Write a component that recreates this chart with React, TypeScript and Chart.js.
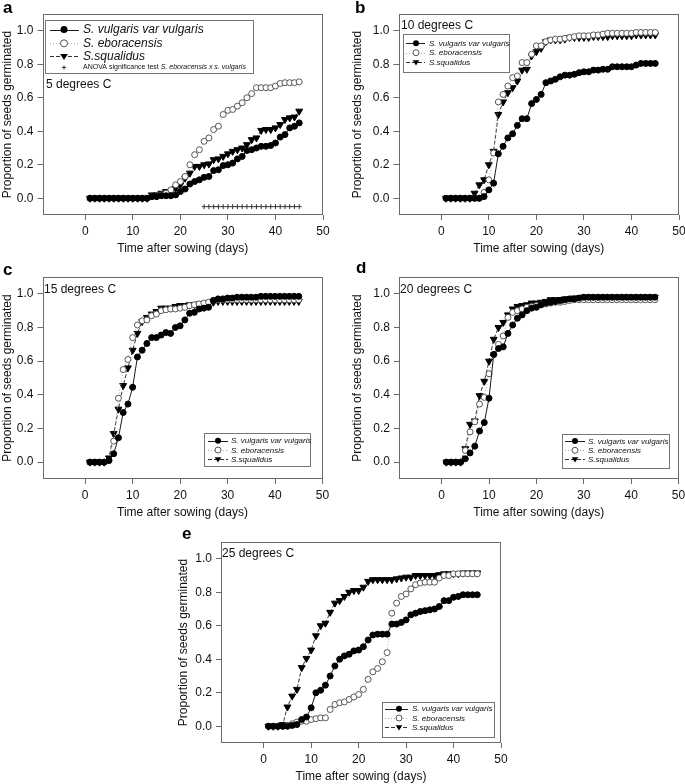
import React, { useEffect, useRef } from "react";
import { Chart, registerables } from "chart.js";

Chart.register(...registerables);

const FONT = '"Liberation Sans", Arial, Helvetica, sans-serif';
const FRAME = "#6a6a6a";
const TEXT = "#111";

// ---------- data ----------
const DAYS = [1, 2, 3, 4, 5, 6, 7, 8, 9, 10, 11, 12, 13, 14, 15, 16, 17, 18, 19, 20, 21, 22, 23, 24, 25, 26, 27, 28, 29, 30, 31, 32, 33, 34, 35, 36, 37, 38, 39, 40, 41, 42, 43, 44, 45];
const X_TICKS = [0, 10, 20, 30, 40, 50];
const Y_TICKS = [0, 0.2, 0.4, 0.6, 0.8, 1.0];
const SERIES_NAMES = ["S. vulgaris var vulgaris", "S. eboracensis", "S.squalidus"];
const TEMPS = ["5 degrees C", "10 degrees C", "15 degrees C", "20 degrees C", "25 degrees C"];
const LETTERS = ["a", "b", "c", "d", "e"];

// 5 degrees C
const A_VUL = [0, 0, 0, 0, 0, 0, 0, 0, 0, 0, 0, 0, 0, 0.01, 0.01, 0.015, 0.015, 0.015, 0.02, 0.04, 0.055, 0.085, 0.1, 0.11, 0.125, 0.13, 0.165, 0.17, 0.195, 0.2, 0.21, 0.235, 0.25, 0.285, 0.29, 0.3, 0.31, 0.31, 0.315, 0.33, 0.365, 0.38, 0.42, 0.43, 0.45];
const A_EBO = [0, 0, 0, 0, 0, 0, 0, 0, 0, 0, 0, 0, 0, 0.01, 0.01, 0.02, 0.03, 0.05, 0.08, 0.1, 0.13, 0.2, 0.26, 0.29, 0.34, 0.36, 0.41, 0.43, 0.5, 0.525, 0.53, 0.55, 0.57, 0.6, 0.625, 0.66, 0.66, 0.66, 0.66, 0.67, 0.685, 0.69, 0.69, 0.69, 0.695];
const A_SQU = [0, 0, 0, 0, 0, 0, 0, 0, 0, 0, 0, 0, 0, 0.02, 0.02, 0.03, 0.04, 0.04, 0.06, 0.08, 0.12, 0.15, 0.19, 0.19, 0.2, 0.205, 0.23, 0.235, 0.25, 0.265, 0.28, 0.29, 0.3, 0.32, 0.35, 0.36, 0.405, 0.41, 0.41, 0.42, 0.44, 0.47, 0.48, 0.485, 0.52];
const A_ANOVA_DAYS = [25, 26, 27, 28, 29, 30, 31, 32, 33, 34, 35, 36, 37, 38, 39, 40, 41, 42, 43, 44, 45];
const A_ANOVA_Y = [-0.05, -0.05, -0.05, -0.05, -0.05, -0.05, -0.05, -0.05, -0.05, -0.05, -0.05, -0.05, -0.05, -0.05, -0.05, -0.05, -0.05, -0.05, -0.05, -0.05, -0.05];

// 10 degrees C
const B_VUL = [0, 0, 0, 0, 0, 0, 0, 0, 0.01, 0.05, 0.09, 0.265, 0.31, 0.36, 0.385, 0.435, 0.475, 0.475, 0.565, 0.59, 0.62, 0.69, 0.7, 0.71, 0.725, 0.735, 0.735, 0.74, 0.75, 0.755, 0.755, 0.765, 0.765, 0.77, 0.77, 0.785, 0.785, 0.785, 0.785, 0.785, 0.795, 0.805, 0.805, 0.805, 0.805];
const B_EBO = [0, 0, 0, 0, 0, 0, 0, 0, 0.035, 0.11, 0.27, 0.575, 0.62, 0.67, 0.72, 0.73, 0.81, 0.81, 0.86, 0.91, 0.91, 0.935, 0.945, 0.95, 0.95, 0.955, 0.96, 0.965, 0.97, 0.97, 0.97, 0.975, 0.975, 0.98, 0.985, 0.985, 0.985, 0.985, 0.985, 0.985, 0.99, 0.99, 0.99, 0.99, 0.99];
const B_SQU = [0, 0, 0, 0, 0, 0, 0.03, 0.08, 0.11, 0.2, 0.28, 0.5, 0.575, 0.63, 0.66, 0.7, 0.765, 0.77, 0.85, 0.875, 0.895, 0.935, 0.945, 0.945, 0.945, 0.95, 0.96, 0.96, 0.96, 0.96, 0.96, 0.965, 0.965, 0.965, 0.965, 0.97, 0.97, 0.97, 0.97, 0.97, 0.975, 0.975, 0.975, 0.975, 0.975];

// 15 degrees C
const C_VUL = [0, 0, 0, 0, 0.01, 0.05, 0.145, 0.295, 0.345, 0.445, 0.625, 0.665, 0.705, 0.74, 0.74, 0.755, 0.77, 0.765, 0.8, 0.81, 0.845, 0.885, 0.89, 0.91, 0.915, 0.92, 0.96, 0.97, 0.97, 0.975, 0.975, 0.98, 0.98, 0.98, 0.98, 0.98, 0.985, 0.985, 0.985, 0.985, 0.985, 0.985, 0.985, 0.985, 0.985];
const C_EBO = [0, 0, 0, 0, 0.01, 0.125, 0.38, 0.55, 0.61, 0.74, 0.815, 0.84, 0.845, 0.87, 0.88, 0.9, 0.905, 0.91, 0.91, 0.915, 0.92, 0.93, 0.935, 0.94, 0.945, 0.95, 0.96, 0.965, 0.965, 0.965, 0.965, 0.965, 0.965, 0.965, 0.965, 0.965, 0.965, 0.965, 0.965, 0.965, 0.965, 0.965, 0.965, 0.965, 0.965];
const C_SQU = [0, 0, 0, 0, 0.025, 0.17, 0.315, 0.455, 0.56, 0.665, 0.765, 0.835, 0.86, 0.88, 0.895, 0.915, 0.915, 0.915, 0.925, 0.93, 0.93, 0.935, 0.935, 0.94, 0.94, 0.94, 0.95, 0.955, 0.955, 0.955, 0.955, 0.955, 0.955, 0.955, 0.955, 0.955, 0.955, 0.955, 0.955, 0.955, 0.955, 0.955, 0.955, 0.955, 0.955];

// 20 degrees C
const D_VUL = [0, 0, 0, 0, 0.02, 0.055, 0.095, 0.185, 0.235, 0.38, 0.64, 0.675, 0.685, 0.765, 0.815, 0.855, 0.875, 0.9, 0.915, 0.92, 0.935, 0.945, 0.95, 0.955, 0.96, 0.965, 0.97, 0.97, 0.975, 0.98, 0.98, 0.98, 0.98, 0.98, 0.98, 0.98, 0.98, 0.98, 0.98, 0.98, 0.98, 0.98, 0.98, 0.98, 0.98];
const D_EBO = [0, 0, 0, 0, 0.07, 0.18, 0.24, 0.345, 0.385, 0.525, 0.64, 0.7, 0.75, 0.86, 0.89, 0.9, 0.91, 0.92, 0.925, 0.93, 0.935, 0.94, 0.945, 0.95, 0.95, 0.955, 0.96, 0.965, 0.965, 0.965, 0.965, 0.965, 0.965, 0.965, 0.965, 0.965, 0.965, 0.965, 0.965, 0.965, 0.965, 0.965, 0.965, 0.965, 0.965];
const D_SQU = [0, 0, 0, 0, 0.08, 0.225, 0.245, 0.395, 0.48, 0.6, 0.73, 0.8, 0.83, 0.875, 0.91, 0.925, 0.93, 0.935, 0.945, 0.945, 0.95, 0.955, 0.965, 0.965, 0.965, 0.97, 0.97, 0.975, 0.975, 0.98, 0.98, 0.98, 0.98, 0.98, 0.98, 0.98, 0.98, 0.98, 0.98, 0.98, 0.98, 0.98, 0.98, 0.98, 0.98];

// 25 degrees C
const E_VUL = [0, 0, 0, 0, 0, 0.005, 0.01, 0.04, 0.055, 0.11, 0.2, 0.215, 0.245, 0.3, 0.36, 0.4, 0.42, 0.43, 0.45, 0.455, 0.475, 0.515, 0.545, 0.55, 0.55, 0.55, 0.61, 0.61, 0.62, 0.635, 0.665, 0.675, 0.685, 0.69, 0.695, 0.7, 0.715, 0.75, 0.75, 0.77, 0.775, 0.785, 0.785, 0.785, 0.785];
const E_EBO = [0, 0, 0, 0, 0.005, 0.015, 0.025, 0.03, 0.03, 0.04, 0.045, 0.05, 0.05, 0.1, 0.13, 0.14, 0.145, 0.16, 0.175, 0.19, 0.22, 0.28, 0.325, 0.345, 0.385, 0.44, 0.675, 0.735, 0.775, 0.79, 0.82, 0.845, 0.855, 0.86, 0.86, 0.86, 0.885, 0.9, 0.9, 0.91, 0.91, 0.91, 0.91, 0.91, 0.91];
const E_SQU = [0, 0, 0, 0.01, 0.115, 0.18, 0.22, 0.35, 0.405, 0.455, 0.54, 0.6, 0.615, 0.68, 0.735, 0.75, 0.775, 0.8, 0.81, 0.81, 0.83, 0.865, 0.875, 0.875, 0.875, 0.875, 0.875, 0.88, 0.885, 0.89, 0.89, 0.9, 0.9, 0.9, 0.9, 0.9, 0.905, 0.91, 0.91, 0.91, 0.91, 0.915, 0.915, 0.915, 0.915];

// ---------- layout specs ----------
type LegendSpec = {
  box: [number, number, number, number];
  rows: number[];
  sx0: number;
  sx1: number;
  mx: number;
  tx: number;
  font: number;
  mr: number;
};

type PanelSpec = {
  idx: number;
  x: number;
  y: number;
  w: number;
  h: number;
  pad: { left: number; top: number; right: number; bottom: number };
  yW: number;
  xH: number;
  letterPos: [number, number];
  tempPos: [number, number];
  legend: LegendSpec;
  series: number[][];
  anova?: boolean;
};

const PANELS: PanelSpec[] = [
  {
    idx: 0, x: 0, y: 0, w: 340, h: 256,
    pad: { left: 0, top: 14, right: 17, bottom: 0 }, yW: 42.5, xH: 41,
    letterPos: [3, 13], tempPos: [46, 88],
    legend: { box: [45, 20, 208, 53], rows: [29.5, 43.3, 56.3, 67.5], sx0: 50, sx1: 79, mx: 64, tx: 83, font: 12, mr: 3.5 },
    series: [A_VUL, A_EBO, A_SQU], anova: true,
  },
  {
    idx: 1, x: 340, y: 0, w: 345, h: 256,
    pad: { left: 10, top: 14, right: 6, bottom: 0 }, yW: 48.5, xH: 41,
    letterPos: [15, 13], tempPos: [61, 29],
    legend: { box: [63, 34, 106, 38], rows: [43.3, 52.7, 62.3], sx0: 66, sx1: 85, mx: 76, tx: 89, font: 8, mr: 3 },
    series: [B_VUL, B_EBO, B_SQU],
  },
  {
    idx: 2, x: 0, y: 262, w: 340, h: 258,
    pad: { left: 0, top: 15, right: 17.5, bottom: 0 }, yW: 42.5, xH: 41,
    letterPos: [3, 13], tempPos: [44, 31],
    legend: { box: [204, 171.3, 106, 33.4], rows: [178.7, 188, 197.3], sx0: 208, sx1: 228, mx: 218, tx: 231, font: 8, mr: 3 },
    series: [C_VUL, C_EBO, C_SQU],
  },
  {
    idx: 3, x: 340, y: 262, w: 345, h: 258,
    pad: { left: 10, top: 15, right: 6.5, bottom: 0 }, yW: 49, xH: 41,
    letterPos: [16, 11], tempPos: [60, 31],
    legend: { box: [221.7, 171.7, 107, 34.3], rows: [179, 188.3, 197.3], sx0: 225, sx1: 245, mx: 235, tx: 248, font: 8, mr: 3 },
    series: [D_VUL, D_EBO, D_SQU],
  },
  {
    idx: 4, x: 170, y: 528, w: 345, h: 256,
    pad: { left: 6.8, top: 14, right: 14, bottom: 0 }, yW: 44.2, xH: 41,
    letterPos: [12, 11], tempPos: [52, 29],
    legend: { box: [212.3, 174.3, 111.7, 34.7], rows: [180.7, 190, 199.3], sx0: 215, sx1: 238, mx: 229, tx: 242, font: 8, mr: 3 },
    series: [E_VUL, E_EBO, E_SQU],
  },
];

const LINE_STYLES = [
  { color: "#1a1a1a", dash: [] as number[] },
  { color: "#a8a8a8", dash: [1, 2] },
  { color: "#333333", dash: [4, 2] },
];

function drawMarker(ctx: CanvasRenderingContext2D, kind: number, x: number, y: number, r: number) {
  ctx.save();
  ctx.setLineDash([]);
  ctx.lineWidth = 1;
  if (kind === 0) {
    ctx.beginPath();
    ctx.arc(x, y, r, 0, Math.PI * 2);
    ctx.fillStyle = "#000";
    ctx.fill();
  } else if (kind === 1) {
    ctx.beginPath();
    ctx.arc(x, y, r, 0, Math.PI * 2);
    ctx.fillStyle = "#fff";
    ctx.fill();
    ctx.strokeStyle = "#555";
    ctx.stroke();
  } else if (kind === 2) {
    ctx.beginPath();
    ctx.moveTo(x - r * 1.1, y - r * 0.65);
    ctx.lineTo(x + r * 1.1, y - r * 0.65);
    ctx.lineTo(x, y + r * 1.05);
    ctx.closePath();
    ctx.fillStyle = "#000";
    ctx.fill();
  } else {
    ctx.beginPath();
    ctx.moveTo(x - 2, y);
    ctx.lineTo(x + 2, y);
    ctx.moveTo(x, y - 2);
    ctx.lineTo(x, y + 2);
    ctx.strokeStyle = "#333";
    ctx.stroke();
  }
  ctx.restore();
}

function makeDecor(spec: PanelSpec) {
  return {
    id: "decor" + spec.idx,
    afterDraw(chart: any) {
      const ctx: CanvasRenderingContext2D = chart.ctx;
      const a = chart.chartArea;
      ctx.save();
      // frame
      ctx.strokeStyle = FRAME;
      ctx.lineWidth = 1;
      const l = Math.round(a.left) + 0.5;
      const t = Math.round(a.top) + 0.5;
      const r = Math.round(a.right) - 0.5;
      const b = Math.round(a.bottom) - 0.5;
      ctx.strokeRect(l, t, r - l, b - t);

      // panel letter
      ctx.fillStyle = "#000";
      ctx.textBaseline = "alphabetic";
      ctx.textAlign = "left";
      ctx.font = `bold 17px ${FONT}`;
      ctx.fillText(LETTERS[spec.idx], spec.letterPos[0], spec.letterPos[1]);

      // temperature label
      ctx.fillStyle = TEXT;
      ctx.font = `12px ${FONT}`;
      ctx.fillText(TEMPS[spec.idx], spec.tempPos[0], spec.tempPos[1]);

      // legend
      const lg = spec.legend;
      const [bx, by, bw, bh] = lg.box;
      ctx.fillStyle = "#fff";
      ctx.fillRect(bx, by, bw, bh);
      ctx.strokeStyle = "#777";
      ctx.lineWidth = 1;
      ctx.strokeRect(Math.round(bx) + 0.5, Math.round(by) + 0.5, Math.round(bw), Math.round(bh));
      for (let i = 0; i < 3; i++) {
        const yy = lg.rows[i];
        ctx.save();
        ctx.strokeStyle = LINE_STYLES[i].color;
        ctx.setLineDash(LINE_STYLES[i].dash);
        ctx.lineWidth = 1;
        ctx.beginPath();
        ctx.moveTo(lg.sx0, Math.round(yy) + 0.5);
        ctx.lineTo(lg.sx1, Math.round(yy) + 0.5);
        ctx.stroke();
        ctx.restore();
        drawMarker(ctx, i, lg.mx, yy, lg.mr);
        ctx.fillStyle = TEXT;
        ctx.font = `italic ${lg.font}px ${FONT}`;
        ctx.textBaseline = "middle";
        ctx.fillText(SERIES_NAMES[i], lg.tx, yy + 0.5);
      }
      if (spec.anova && lg.rows.length > 3) {
        const yy = lg.rows[3];
        drawMarker(ctx, 3, lg.mx, yy, 2);
        ctx.fillStyle = TEXT;
        ctx.textBaseline = "middle";
        ctx.font = `7px ${FONT}`;
        const p1 = "ANOVA significance test ";
        ctx.fillText(p1, lg.tx, yy);
        const w1 = ctx.measureText(p1).width;
        ctx.font = `italic 7px ${FONT}`;
        ctx.fillText("S. eboracensis x s. vulgaris", lg.tx + w1, yy);
      }
      ctx.restore();
    },
  };
}

function buildConfig(spec: PanelSpec): any {
  const [vul, ebo, squ] = spec.series;
  const datasets: any[] = [
    {
      label: SERIES_NAMES[0],
      data: DAYS.map((d, i) => ({ x: d, y: vul[i] })),
      borderColor: LINE_STYLES[0].color,
      borderWidth: 1,
      pointStyle: "circle",
      pointRadius: 3,
      pointBorderWidth: 1,
      pointBackgroundColor: "#000",
      pointBorderColor: "#000",
      tension: 0,
      fill: false,
    },
    {
      label: SERIES_NAMES[1],
      data: DAYS.map((d, i) => ({ x: d, y: ebo[i] })),
      borderColor: LINE_STYLES[1].color,
      borderDash: LINE_STYLES[1].dash,
      borderWidth: 1,
      pointStyle: "circle",
      pointRadius: 3,
      pointBorderWidth: 1,
      pointBackgroundColor: "#fff",
      pointBorderColor: "#555",
      tension: 0,
      fill: false,
    },
    {
      label: SERIES_NAMES[2],
      data: DAYS.map((d, i) => ({ x: d, y: squ[i] })),
      borderColor: LINE_STYLES[2].color,
      borderDash: LINE_STYLES[2].dash,
      borderWidth: 1,
      pointStyle: "triangle",
      pointRotation: 180,
      pointRadius: 4,
      pointBorderWidth: 1,
      pointBackgroundColor: "#000",
      pointBorderColor: "#000",
      tension: 0,
      fill: false,
    },
  ];
  if (spec.anova) {
    datasets.push({
      label: "ANOVA",
      data: A_ANOVA_DAYS.map((d, i) => ({ x: d, y: A_ANOVA_Y[i] })),
      showLine: false,
      pointStyle: "cross",
      pointRadius: 2.5,
      pointBorderWidth: 1,
      pointBorderColor: "#333",
      pointBackgroundColor: "#333",
    });
  }
  const gridOpts = {
    display: true,
    drawOnChartArea: false,
    drawTicks: true,
    tickLength: 5,
    color: FRAME,
    lineWidth: 1,
  };
  return {
    type: "line",
    data: { datasets },
    options: {
      animation: false,
      responsive: false,
      maintainAspectRatio: false,
      events: [],
      layout: { padding: spec.pad },
      plugins: { legend: { display: false }, tooltip: { enabled: false } },
      scales: {
        x: {
          type: "linear",
          min: -9,
          max: 50,
          afterBuildTicks: (s: any) => {
            s.ticks = X_TICKS.map((v) => ({ value: v }));
          },
          afterFit: (s: any) => {
            s.height = spec.xH;
            s.paddingLeft = 0;
            s.paddingRight = 0;
          },
          grid: gridOpts,
          border: { display: false },
          ticks: {
            font: { family: FONT, size: 12 },
            color: TEXT,
            padding: 4,
            maxRotation: 0,
            autoSkip: false,
          },
          title: {
            display: true,
            text: "Time after sowing (days)",
            font: { family: FONT, size: 12 },
            color: TEXT,
            padding: 0,
          },
        },
        y: {
          type: "linear",
          min: -0.1,
          max: 1.1,
          afterBuildTicks: (s: any) => {
            s.ticks = Y_TICKS.map((v) => ({ value: v }));
          },
          afterFit: (s: any) => {
            s.width = spec.yW;
            s.paddingTop = 0;
            s.paddingBottom = 0;
          },
          grid: gridOpts,
          border: { display: false },
          ticks: {
            font: { family: FONT, size: 12 },
            color: TEXT,
            padding: 4,
            callback: (v: any) => Number(v).toFixed(1),
          },
          title: {
            display: true,
            text: "Proportion of seeds germinated",
            font: { family: FONT, size: 12 },
            color: TEXT,
            padding: 0,
          },
        },
      },
    },
    plugins: [makeDecor(spec)],
  };
}

function Panel({ spec }: { spec: PanelSpec }) {
  const ref = useRef<HTMLCanvasElement>(null);
  useEffect(() => {
    if (!ref.current) return;
    const chart = new Chart(ref.current, buildConfig(spec));
    return () => chart.destroy();
  }, [spec]);
  return (
    <canvas
      ref={ref}
      width={spec.w}
      height={spec.h}
      style={{ position: "absolute", left: spec.x, top: spec.y, width: spec.w, height: spec.h }}
    />
  );
}

export default function App() {
  return (
    <div style={{ position: "absolute", left: 0, top: 0, width: 685, height: 784, background: "#fff", overflow: "hidden" }}>
      {PANELS.map((p) => (
        <Panel key={p.idx} spec={p} />
      ))}
    </div>
  );
}
